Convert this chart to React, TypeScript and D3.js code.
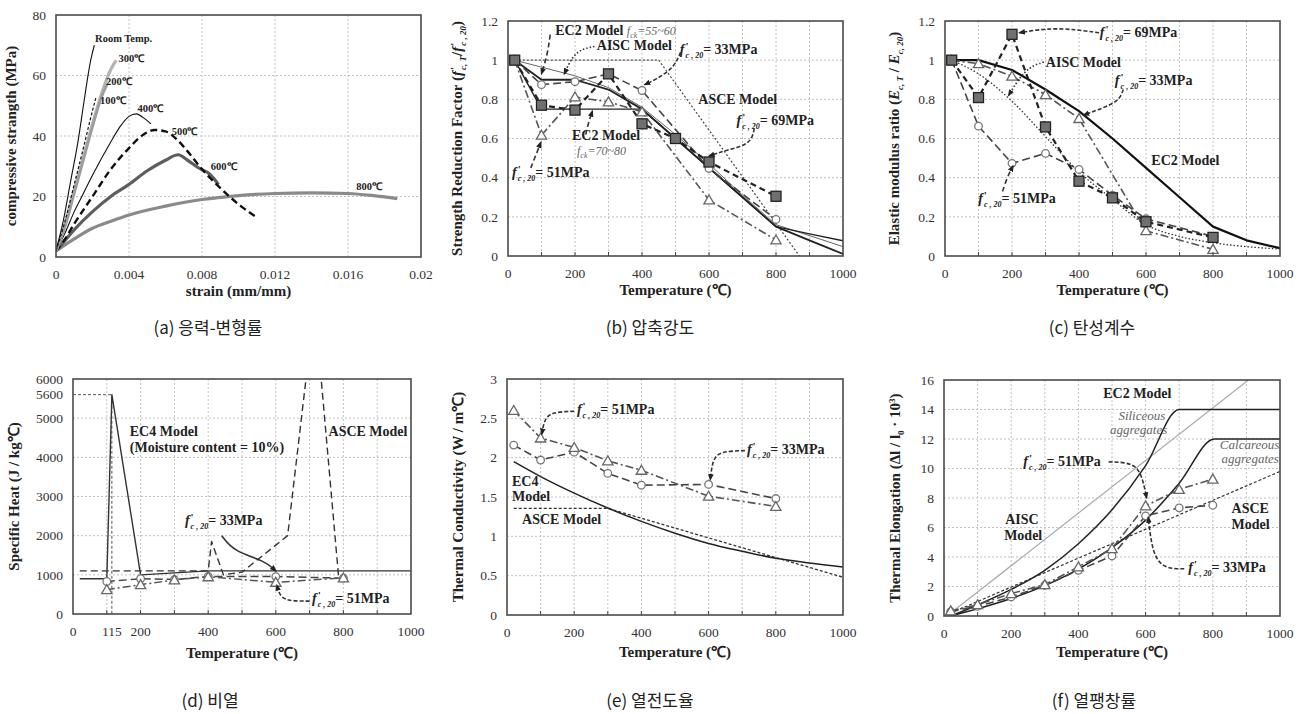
import * as d3 from "d3";
import { useEffect, useRef } from "react";

type Pt = [number, number];

const SERIF = "'Liberation Serif', 'Times New Roman', serif";
const KR = "'Noto Sans CJK KR', 'Noto Sans', sans-serif";

// ---------- (a) stress - strain ----------
const aXTicks = [0, 0.004, 0.008, 0.012, 0.016, 0.02];
const aYTicks = [0, 20, 40, 60, 80];
const aRoom: Pt[] = [[0, 2], [0.0004, 12], [0.0008, 25], [0.0012, 38], [0.0015, 50], [0.0017, 58], [0.0019, 65], [0.0021, 70]];
const a100: Pt[] = [[0, 2], [0.0005, 12], [0.001, 24], [0.0015, 36], [0.0019, 46], [0.0022, 53]];
const a200: Pt[] = [[0, 2], [0.0005, 10], [0.001, 21], [0.0015, 32], [0.002, 43], [0.0025, 53], [0.0028, 57]];
const a300: Pt[] = [[0, 2], [0.0005, 11], [0.001, 22], [0.0015, 33], [0.002, 44], [0.0025, 54], [0.003, 62], [0.0033, 65]];
const a400: Pt[] = [[0, 2], [0.0005, 8], [0.001, 15], [0.0015, 21], [0.002, 27], [0.003, 38], [0.0035, 43], [0.004, 46.5], [0.0044, 47.3], [0.0048, 46], [0.0052, 44]];
const a500: Pt[] = [[0, 2], [0.0005, 6], [0.001, 11], [0.002, 20], [0.003, 29], [0.004, 36], [0.0048, 40.5], [0.0054, 42], [0.006, 41.5], [0.0066, 39], [0.0072, 35], [0.008, 29], [0.0088, 24], [0.0095, 20], [0.0102, 16.5], [0.0109, 13.5]];
const a600: Pt[] = [[0, 2], [0.0005, 5.5], [0.001, 9], [0.002, 15], [0.003, 20], [0.004, 24], [0.005, 28.5], [0.006, 32], [0.0067, 33.8], [0.0072, 32], [0.0078, 29.5], [0.0084, 27.5], [0.0089, 24]];
const a800: Pt[] = [[0, 2], [0.001, 6], [0.002, 9.5], [0.003, 11.8], [0.004, 13.9], [0.006, 16.8], [0.008, 19], [0.01, 20.3], [0.012, 21], [0.014, 21.2], [0.016, 21], [0.0175, 20.2], [0.0187, 19.3]];
const aLabels: [number, number, string][] = [
  [0.00214, 71.2, "Room Temp."], [0.00342, 64.3, "300℃"], [0.00274, 56.9, "200℃"], [0.00241, 50.6, "100℃"],
  [0.00446, 47.8, "400℃"], [0.00634, 40.2, "500℃"], [0.00848, 28.6, "600℃"], [0.01645, 22, "800℃"],
];

// ---------- temperature axes ----------
const tTicks = [0, 200, 400, 600, 800, 1000];
const tGrid = [100, 200, 300, 400, 500, 600, 700, 800, 900];
const ratioTicks = [0, 0.2, 0.4, 0.6, 0.8, 1, 1.2];

// ---------- (b) compressive strength ----------
const b69: Pt[] = [[20, 1], [100, 0.77], [200, 0.745], [300, 0.93], [400, 0.675], [500, 0.6], [600, 0.48], [800, 0.305]];
const b33: Pt[] = [[20, 1], [100, 0.875], [200, 0.89], [300, 0.93], [400, 0.845], [600, 0.447], [800, 0.187]];
const b51: Pt[] = [[20, 1], [100, 0.617], [200, 0.812], [300, 0.787], [400, 0.736], [600, 0.286], [800, 0.082]];
const bEC2a: Pt[] = [[20, 1], [100, 0.9], [200, 0.9], [300, 0.85], [400, 0.75], [500, 0.6], [600, 0.45], [700, 0.3], [800, 0.15], [900, 0.08], [1000, 0.01]];
const bEC2b: Pt[] = [[20, 1], [100, 0.75], [400, 0.75], [500, 0.6], [600, 0.45], [700, 0.3], [800, 0.15], [900, 0.113], [1000, 0.078]];
const bAISC: Pt[] = [[20, 1], [200, 0.92], [300, 0.86], [400, 0.76], [500, 0.62], [600, 0.47], [700, 0.31], [800, 0.16], [1000, 0.048]];
const bASCE: Pt[] = [[20, 1], [450, 1], [870, 0]];

// ---------- (c) elastic modulus ----------
const c69: Pt[] = [[20, 1], [100, 0.809], [200, 1.132], [300, 0.659], [400, 0.382], [500, 0.297], [600, 0.175], [800, 0.095]];
const c33: Pt[] = [[20, 1], [100, 0.982], [200, 0.918], [300, 0.824], [400, 0.702], [600, 0.129], [800, 0.034]];
const c51: Pt[] = [[20, 1], [100, 0.663], [200, 0.473], [300, 0.524], [400, 0.442], [500, 0.31], [600, 0.19], [800, 0.1]];
const cEC2: Pt[] = [[20, 1], [100, 1], [200, 0.95], [300, 0.85], [400, 0.74], [500, 0.6], [600, 0.45], [700, 0.3], [800, 0.15], [900, 0.08], [1000, 0.04]];
const cAISC: Pt[] = [[20, 1], [100, 0.93], [200, 0.79], [300, 0.61], [400, 0.43], [500, 0.29], [600, 0.16], [700, 0.1], [800, 0.068], [1000, 0.035]];

// ---------- (d) specific heat ----------
const dXTicks = [0, 115, 200, 400, 600, 800, 1000];
const dYTicks = [0, 1000, 2000, 3000, 4000, 5000, 5600, 6000];
const dYGrid = [1000, 2000, 3000, 4000, 5000];
const dEC4: Pt[] = [[20, 900], [100, 900], [115, 5600], [200, 1000], [400, 1100], [1000, 1100]];
const dASCE: Pt[] = [[20, 1100], [400, 1100], [410, 1850], [445, 1000], [500, 1070], [635, 2000], [703, 7000], [724, 7000], [786, 930], [800, 930]];
const dRef: Pt[] = [[0, 5600], [115, 5600], [115, 0]];
const d33: Pt[] = [[100, 830], [200, 900], [300, 880], [400, 960], [600, 955], [800, 915]];
const d51: Pt[] = [[100, 620], [200, 750], [300, 870], [400, 950], [600, 810], [800, 920]];

// ---------- (e) thermal conductivity ----------
const eYTicks = [0, 0.5, 1, 1.5, 2, 2.5, 3];
const e51: Pt[] = [[20, 2.6], [100, 2.25], [200, 2.13], [300, 1.96], [400, 1.84], [600, 1.51], [800, 1.38]];
const e33: Pt[] = [[20, 2.16], [100, 1.97], [200, 2.07], [300, 1.8], [400, 1.65], [600, 1.66], [800, 1.48]];
const eEC4: Pt[] = [[20, 1.95], [100, 1.76], [200, 1.55], [300, 1.36], [400, 1.19], [500, 1.04], [600, 0.91], [700, 0.81], [800, 0.72], [900, 0.66], [1000, 0.61]];
const eASCE: Pt[] = [[20, 1.355], [300, 1.355], [1000, 0.48]];

// ---------- (f) thermal elongation ----------
const fYTicks = [0, 2, 4, 6, 8, 10, 12, 14, 16];
const fSil: Pt[] = [[20, 0], [100, 0.75], [200, 1.8], [300, 3.1], [400, 4.9], [500, 7.2], [600, 10.2], [700, 14], [1000, 14]];
const fCal: Pt[] = [[20, 0], [100, 0.49], [200, 1.19], [300, 2.06], [400, 3.18], [500, 4.63], [600, 6.5], [700, 9], [805, 12], [1000, 12]];
const fAISC: Pt[] = [[20, 0.2], [906, 16]];
const fASCE: Pt[] = [[20, 0.2], [1000, 9.8]];
const f51: Pt[] = [[20, 0.35], [100, 0.77], [200, 1.52], [300, 2.13], [400, 3.33], [500, 4.57], [600, 7.47], [700, 8.58], [800, 9.28]];
const f33: Pt[] = [[20, 0.3], [100, 0.65], [200, 1.29], [300, 2.08], [400, 3.1], [500, 4.07], [600, 6.79], [700, 7.33], [800, 7.51]];

// ---------- annotation arrows (data coords) ----------
const bArrows: { pts: Pt[]; dash: string }[] = [
  { pts: [[126, 1.13], [118, 1.03], [100, 0.93]], dash: "5,3" },
  { pts: [[258, 1.07], [200, 1.05], [168, 0.93]], dash: "1.5,2" },
  { pts: [[515, 1.04], [495, 0.96], [440, 0.9], [408, 0.875]], dash: "4,2" },
  { pts: [[735, 0.65], [725, 0.57], [650, 0.54], [600, 0.51]], dash: "4,2" },
  { pts: [[232, 0.62], [240, 0.68], [252, 0.74]], dash: "5,3" },
  { pts: [[68, 0.45], [82, 0.51], [98, 0.58]], dash: "5,3" },
];
const cArrows: { pts: Pt[]; dash: string }[] = [
  { pts: [[460, 1.14], [330, 1.17], [222, 1.14]], dash: "4,2" },
  { pts: [[295, 0.99], [240, 0.96], [190, 0.82]], dash: "1.5,2" },
  { pts: [[532, 0.85], [520, 0.79], [455, 0.745], [414, 0.72]], dash: "4,2" },
  { pts: [[172, 0.33], [185, 0.4], [203, 0.46]], dash: "5,3" },
];
const dArrows: { pts: Pt[]; dash: string }[] = [
  { pts: [[440, 2000], [475, 1600], [570, 1350], [600, 1100]], dash: "" },
  { pts: [[700, 330], [630, 330], [610, 500], [603, 740]], dash: "4,2" },
];
const eArrows: { pts: Pt[]; dash: string }[] = [
  { pts: [[200, 2.59], [130, 2.58], [110, 2.47], [104, 2.3]], dash: "4,2" },
  { pts: [[708, 2.09], [635, 2.08], [612, 1.98], [605, 1.72]], dash: "4,2" },
];
const fArrows: { pts: Pt[]; dash: string }[] = [
  { pts: [[490, 10.45], [565, 10.4], [590, 9.5], [603, 8.0]], dash: "4,2" },
  { pts: [[715, 3.2], [655, 3.2], [620, 4.2], [608, 6.7]], dash: "4,2" },
];

type Part = { t: string; it?: boolean; sz?: number; dy?: number; dx?: number; fill?: string; w?: string };
type Note = { x: number; y: number; parts: Part[]; size?: number };

const fc = (v: string): Part[] => [
  { t: "f", it: true }, { t: "'", sz: 11, dy: -4, dx: 1 }, { t: "c , 20", it: true, sz: 8, dy: 8, dx: -3 }, { t: "= " + v, dy: -4 },
];
const bold = (t: string): Part[] => [{ t }];
const ital = (t: string): Part[] => [{ t, it: true, w: "normal", fill: "#666" }];

const bNotes: Note[] = [
  { x: 141, y: 1.127, parts: [...bold("EC2 Model "), { t: "f", it: true, w: "normal", fill: "#666", sz: 12 }, { t: "ck", it: true, w: "normal", fill: "#666", sz: 8, dy: 3 }, { t: "=55~60", it: true, w: "normal", fill: "#666", sz: 12, dy: -3 }] },
  { x: 265, y: 1.05, parts: bold("AISC Model") },
  { x: 513, y: 1.033, parts: fc("33MPa") },
  { x: 568, y: 0.778, parts: bold("ASCE Model") },
  { x: 682, y: 0.668, parts: fc("69MPa") },
  { x: 191, y: 0.592, parts: bold("EC2 Model") },
  { x: 206, y: 0.515, parts: [{ t: "f", it: true, w: "normal", fill: "#666" }, { t: "ck", it: true, w: "normal", fill: "#666", sz: 8, dy: 3 }, { t: "=70~80", it: true, w: "normal", fill: "#666", dy: -3 }], size: 12 },
  { x: 12, y: 0.405, parts: fc("51MPa") },
];
const cNotes: Note[] = [
  { x: 462, y: 1.118, parts: fc("69MPa") },
  { x: 301, y: 0.965, parts: bold("AISC Model") },
  { x: 507, y: 0.872, parts: fc("33MPa") },
  { x: 616, y: 0.464, parts: bold("EC2 Model") },
  { x: 99, y: 0.272, parts: fc("51MPa") },
];
const dNotes: Note[] = [
  { x: 168, y: 4555, parts: bold("EC4 Model") },
  { x: 168, y: 4147, parts: bold("(Moisture content = 10%)") },
  { x: 756, y: 4555, parts: bold("ASCE Model") },
  { x: 331, y: 2278, parts: fc("33MPa") },
  { x: 707, y: 280, parts: fc("51MPa") },
];
const eNotes: Note[] = [
  { x: 208, y: 2.554, parts: fc("51MPa") },
  { x: 714, y: 2.045, parts: fc("33MPa") },
  { x: 15, y: 1.646, parts: bold("EC4") },
  { x: 15, y: 1.451, parts: bold("Model") },
  { x: 45, y: 1.158, parts: bold("ASCE Model") },
];
const fNotes: Note[] = [
  { x: 474, y: 14.75, parts: bold("EC2 Model") },
  { x: 519, y: 13.29, parts: ital("Siliceous"), size: 13 },
  { x: 494, y: 12.31, parts: ital("aggregates"), size: 13 },
  { x: 821, y: 11.32, parts: ital("Calcareous"), size: 13 },
  { x: 826, y: 10.34, parts: ital("aggregates"), size: 13 },
  { x: 236, y: 10.18, parts: fc("51MPa") },
  { x: 182, y: 6.22, parts: bold("AISC") },
  { x: 179, y: 5.18, parts: bold("Model") },
  { x: 856, y: 6.95, parts: bold("ASCE") },
  { x: 856, y: 5.88, parts: bold("Model") },
  { x: 727, y: 2.99, parts: fc("33MPa") },
];

const rich = (g: any, x: number, y: number, parts: Part[], o: { size?: number; anchor?: string; rotate?: boolean; weight?: string } = {}) => {
  const txt = g.append("text")
    .attr("x", x).attr("y", y)
    .attr("font-family", SERIF)
    .attr("font-size", o.size || 14)
    .attr("font-weight", o.weight || "bold")
    .attr("fill", "#222")
    .attr("text-anchor", o.anchor || "start");
  if (o.rotate) txt.attr("transform", `rotate(-90 ${x} ${y})`);
  parts.forEach((p) => {
    const s = txt.append("tspan").text(p.t);
    if (p.it) s.attr("font-style", "italic");
    if (p.sz) s.attr("font-size", p.sz);
    if (p.dy) s.attr("dy", p.dy);
    if (p.dx) s.attr("dx", p.dx);
    if (p.fill) s.attr("fill", p.fill);
    if (p.w) s.attr("font-weight", p.w);
  });
};

const panel = (svg: any, cfg: any) => {
  const { id, box, xDom, yDom, xTicks, yTicks, xGrid, yGrid, minor } = cfg;
  const x = d3.scaleLinear().domain(xDom).range([box.x1, box.x2]);
  const y = d3.scaleLinear().domain(yDom).range([box.y2, box.y1]);
  const root = svg.append("g");
  root.append("clipPath").attr("id", "clip-" + id).append("rect")
    .attr("x", box.x1).attr("y", box.y1).attr("width", box.x2 - box.x1).attr("height", box.y2 - box.y1);

  const grid = root.append("g").attr("stroke", "#c2c2c2").attr("stroke-width", 1).attr("stroke-dasharray", "2,2");
  xGrid.forEach((v: number) => grid.append("line").attr("x1", x(v)).attr("x2", x(v)).attr("y1", box.y1).attr("y2", box.y2));
  yGrid.forEach((v: number) => grid.append("line").attr("y1", y(v)).attr("y2", y(v)).attr("x1", box.x1).attr("x2", box.x2));

  const plot = root.append("g").attr("clip-path", `url(#clip-${id})`);
  const marks = root.append("g");

  root.append("rect").attr("x", box.x1).attr("y", box.y1).attr("width", box.x2 - box.x1).attr("height", box.y2 - box.y1)
    .attr("fill", "none").attr("stroke", "#4a4a4a").attr("stroke-width", 1.6);
  if (minor) {
    minor.forEach((v: number) => root.append("line").attr("x1", x(v)).attr("x2", x(v)).attr("y1", box.y2).attr("y2", box.y2 - 4)
      .attr("stroke", "#444").attr("stroke-width", 1));
  }
  const lab = root.append("g").attr("font-family", SERIF).attr("font-size", 13.5).attr("fill", "#333");
  xTicks.forEach((v: number) => lab.append("text").attr("x", x(v)).attr("y", box.y2 + 17).attr("dy", "0.35em")
    .attr("text-anchor", "middle").text(String(v)));
  yTicks.forEach((v: number) => lab.append("text").attr("x", box.x1 - 10).attr("y", y(v)).attr("dy", "0.35em")
    .attr("text-anchor", "end").text(String(v)));

  rich(root, (box.x1 + box.x2) / 2, box.y2 + cfg.xTitleOff, [{ t: cfg.xTitle }], { anchor: "middle", size: 15 });
  rich(root, box.x1 - cfg.yTitleOff, (box.y1 + box.y2) / 2, cfg.yTitle, { anchor: "middle", size: 15, rotate: true });

  root.append("text").attr("x", cfg.cap[0]).attr("y", cfg.cap[1]).attr("dy", "0.35em").attr("text-anchor", "middle")
    .attr("font-family", KR).attr("font-size", 17).attr("fill", "#222").text(cfg.caption);

  const notes = root.append("g");
  return { x, y, plot, marks, notes };
};

const drawLine = (p: any, pts: Pt[], color: string, width: number, dash: string, curve: any = d3.curveLinear) => {
  const line = d3.line<Pt>().x((d) => p.x(d[0])).y((d) => p.y(d[1])).curve(curve);
  p.plot.append("path").attr("d", line(pts)).attr("fill", "none").attr("stroke", color)
    .attr("stroke-width", width).attr("stroke-dasharray", dash || null).attr("stroke-linejoin", "round");
};

const drawMarks = (p: any, pts: Pt[], kind: string) => {
  pts.forEach((d) => {
    const cx = p.x(d[0]);
    const cy = p.y(d[1]);
    if (kind === "sq") {
      p.marks.append("rect").attr("x", cx - 5).attr("y", cy - 5).attr("width", 10).attr("height", 10)
        .attr("fill", "#707070").attr("stroke", "#222").attr("stroke-width", 1.3);
    } else if (kind === "ci") {
      p.marks.append("circle").attr("cx", cx).attr("cy", cy).attr("r", 3.8)
        .attr("fill", "#fff").attr("stroke", "#777").attr("stroke-width", 1.3);
    } else {
      p.marks.append("path").attr("d", d3.symbol(d3.symbolTriangle, 46)()).attr("transform", `translate(${cx},${cy + 1})`)
        .attr("fill", "#fff").attr("stroke", "#666").attr("stroke-width", 1.3);
    }
  });
};

const drawArrows = (p: any, arrows: { pts: Pt[]; dash: string }[]) => {
  const line = d3.line<Pt>().x((d) => p.x(d[0])).y((d) => p.y(d[1])).curve(d3.curveBasis);
  arrows.forEach((a) => {
    p.notes.append("path").attr("d", line(a.pts)).attr("fill", "none").attr("stroke", "#333")
      .attr("stroke-width", 1.6).attr("stroke-dasharray", a.dash || null).attr("marker-end", "url(#arr)");
  });
};

const drawNotes = (p: any, notes: Note[]) => {
  notes.forEach((n) => rich(p.notes, p.x(n.x), p.y(n.y), n.parts, { size: n.size || 14 }));
};

const sub = (t: string): Part => ({ t, it: true, sz: 9, dy: 4 });

const draw = (svg: any) => {
  const defs = svg.append("defs");
  defs.append("marker").attr("id", "arr").attr("viewBox", "0 0 10 10").attr("refX", 8).attr("refY", 5)
    .attr("markerWidth", 7).attr("markerHeight", 7).attr("markerUnits", "userSpaceOnUse").attr("orient", "auto")
    .append("path").attr("d", "M0,1L10,5L0,9z").attr("fill", "#222");

  // (a)
  const pa = panel(svg, {
    id: "a", box: { x1: 56, x2: 421, y1: 15, y2: 257 }, xDom: [0, 0.02], yDom: [0, 80],
    xTicks: aXTicks, yTicks: aYTicks, xGrid: aXTicks.slice(1, -1), yGrid: aYTicks.slice(1, -1),
    xTitle: "strain (mm/mm)", xTitleOff: 39, yTitleOff: 40,
    yTitle: [{ t: "compressive strangth (MPa)" }], caption: "(a) 응력-변형률", cap: [208, 328],
  });
  drawLine(pa, a800, "#8a8a8a", 3.2, "", d3.curveMonotoneX);
  drawLine(pa, a600, "#5e5e5e", 3.2, "", d3.curveMonotoneX);
  drawLine(pa, a500, "#111", 2.4, "7,4", d3.curveMonotoneX);
  drawLine(pa, a400, "#111", 1.1, "", d3.curveMonotoneX);
  drawLine(pa, a300, "#b4b4b4", 3.2, "", d3.curveMonotoneX);
  drawLine(pa, a200, "#9c9c9c", 2.6, "", d3.curveMonotoneX);
  drawLine(pa, a100, "#111", 1.2, "3,2", d3.curveMonotoneX);
  drawLine(pa, aRoom, "#111", 1.1, "", d3.curveMonotoneX);
  aLabels.forEach((l) => rich(pa.notes, pa.x(l[0]), pa.y(l[1]), [{ t: l[2] }], { size: 10.5 }));

  // (b)
  const pb = panel(svg, {
    id: "b", box: { x1: 508, x2: 843, y1: 21, y2: 256 }, xDom: [0, 1000], yDom: [0, 1.2],
    xTicks: tTicks, yTicks: ratioTicks, xGrid: tGrid, yGrid: ratioTicks.slice(1, -1), minor: tGrid,
    xTitle: "Temperature (℃)", xTitleOff: 39, yTitleOff: 46,
    yTitle: [{ t: "Strength  Reduction  Factor (" }, { t: "f", it: true }, { t: "'", sz: 11, dy: -4, dx: 1 }, { t: "c, T", it: true, sz: 9, dy: 8, dx: -3 },
      { t: "/", dy: -4 }, { t: "f", it: true }, { t: "'", sz: 11, dy: -4, dx: 1 }, { t: "c , 20", it: true, sz: 9, dy: 8, dx: -3 }, { t: ")", dy: -4 }],
    caption: "(b) 압축강도", cap: [650, 328],
  });
  drawLine(pb, bASCE, "#444", 1.2, "2,2");
  drawLine(pb, bAISC, "#666", 1, "");
  drawLine(pb, bEC2b, "#222", 1.4, "");
  drawLine(pb, bEC2a, "#222", 1.8, "");
  drawLine(pb, b51, "#555", 1.6, "8,3,2,3");
  drawLine(pb, b33, "#444", 1.6, "8,4");
  drawLine(pb, b69, "#222", 2.2, "6,4");
  drawMarks(pb, b33, "ci");
  drawMarks(pb, b51, "tr");
  drawMarks(pb, b69, "sq");
  drawArrows(pb, bArrows);
  drawNotes(pb, bNotes);

  // (c)
  const pc = panel(svg, {
    id: "c", box: { x1: 945, x2: 1280, y1: 21, y2: 256 }, xDom: [0, 1000], yDom: [0, 1.2],
    xTicks: tTicks, yTicks: ratioTicks, xGrid: tGrid, yGrid: ratioTicks.slice(1, -1), minor: tGrid,
    xTitle: "Temperature (℃)", xTitleOff: 39, yTitleOff: 46,
    yTitle: [{ t: "Elastic modulus ratio (" }, { t: "E", it: true }, sub("c, T"), { t: " / ", dy: -4 }, { t: "E", it: true }, sub("c, 20"), { t: ")", dy: -4 }],
    caption: "(c) 탄성계수", cap: [1092, 328],
  });
  drawLine(pc, cAISC, "#333", 1.3, "1.5,2", d3.curveMonotoneX);
  drawLine(pc, cEC2, "#111", 2.2, "");
  drawLine(pc, c33, "#555", 1.6, "8,3,2,3");
  drawLine(pc, c51, "#444", 1.6, "8,4");
  drawLine(pc, c69, "#222", 2.2, "6,4");
  drawMarks(pc, c51, "ci");
  drawMarks(pc, c33, "tr");
  drawMarks(pc, c69, "sq");
  drawArrows(pc, cArrows);
  drawNotes(pc, cNotes);

  // (d)
  const pd = panel(svg, {
    id: "d", box: { x1: 73, x2: 411, y1: 379, y2: 614 }, xDom: [0, 1000], yDom: [0, 6000],
    xTicks: dXTicks, yTicks: dYTicks, xGrid: tGrid, yGrid: dYGrid, minor: tGrid,
    xTitle: "Temperature (℃)", xTitleOff: 44, yTitleOff: 54,
    yTitle: [{ t: "Specific Heat (J / kg℃)" }], caption: "(d) 비열", cap: [210, 701],
  });
  drawLine(pd, dRef, "#555", 1, "3,2");
  drawLine(pd, dEC4, "#333", 1.4, "");
  drawLine(pd, dASCE, "#333", 1.4, "7,4");
  drawLine(pd, d33, "#444", 1.5, "8,4");
  drawLine(pd, d51, "#555", 1.5, "8,3,2,3");
  drawMarks(pd, d33, "ci");
  drawMarks(pd, d51, "tr");
  drawArrows(pd, dArrows);
  drawNotes(pd, dNotes);

  // (e)
  const pe = panel(svg, {
    id: "e", box: { x1: 507, x2: 843, y1: 379, y2: 615 }, xDom: [0, 1000], yDom: [0, 3],
    xTicks: tTicks, yTicks: eYTicks, xGrid: tGrid, yGrid: eYTicks.slice(1, -1), minor: tGrid,
    xTitle: "Temperature (℃)", xTitleOff: 42, yTitleOff: 44,
    yTitle: [{ t: "Thermal Conductivity (W / m℃)" }], caption: "(e) 열전도율", cap: [650, 701],
  });
  drawLine(pe, eASCE, "#333", 1.3, "3,2");
  drawLine(pe, eEC4, "#222", 1.5, "", d3.curveMonotoneX);
  drawLine(pe, e51, "#555", 1.6, "8,3,2,3");
  drawLine(pe, e33, "#444", 1.6, "8,4");
  drawMarks(pe, e33, "ci");
  drawMarks(pe, e51, "tr");
  drawArrows(pe, eArrows);
  drawNotes(pe, eNotes);

  // (f)
  const pf = panel(svg, {
    id: "f", box: { x1: 944, x2: 1280, y1: 380, y2: 616 }, xDom: [0, 1000], yDom: [0, 16],
    xTicks: tTicks, yTicks: fYTicks, xGrid: tGrid, yGrid: fYTicks.slice(1, -1), minor: tGrid,
    xTitle: "Temperature (℃)", xTitleOff: 41, yTitleOff: 44,
    yTitle: [{ t: "Thermal Elongation (Δl / l" }, { t: "0", sz: 9, dy: 4 }, { t: " · 10", dy: -4 }, { t: "3", sz: 9, dy: -5 }, { t: ")", dy: 5 }],
    caption: "(f) 열팽창률", cap: [1094, 701],
  });
  drawLine(pf, fAISC, "#aaa", 1.2, "");
  drawLine(pf, fASCE, "#333", 1.2, "3,2");
  drawLine(pf, fSil, "#222", 1.5, "", d3.curveMonotoneX);
  drawLine(pf, fCal, "#222", 1.5, "", d3.curveMonotoneX);
  drawLine(pf, f51, "#555", 1.6, "8,3,2,3");
  drawLine(pf, f33, "#444", 1.6, "8,4");
  drawMarks(pf, f33, "ci");
  drawMarks(pf, f51, "tr");
  drawArrows(pf, fArrows);
  drawNotes(pf, fNotes);
};

export default function App() {
  const ref = useRef<SVGSVGElement>(null);
  useEffect(() => {
    document.body.style.margin = "0";
    const svg = d3.select(ref.current);
    svg.selectAll("*").remove();
    draw(svg);
  }, []);
  return <svg ref={ref} width={1307} height={714} style={{ display: "block", background: "#fff" }} />;
}
